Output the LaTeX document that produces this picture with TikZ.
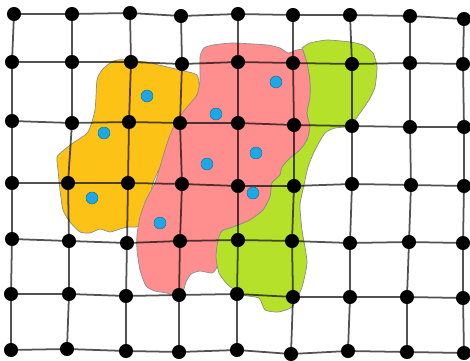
\documentclass[tikz,border=0pt]{standalone}
\definecolor{zoneorange}{RGB}{252,195,22}
\definecolor{zonepink}{RGB}{255,142,142}
\definecolor{zonegreen}{RGB}{182,225,42}
\definecolor{dotblue}{RGB}{28,168,228}
\tikzset{
  gridline/.style={line width=1pt, draw=black, draw opacity=0.68},
  gdot/.style={circle, fill=black, inner sep=0pt, minimum size=8pt},
  bdot/.style={circle, fill=dotblue, draw=dotblue!70!black, line width=0.3pt, inner sep=0pt, minimum size=6.8pt},
  blob/.style={draw=black!45, line width=0.4pt},
}
\begin{document}
\begin{tikzpicture}[x=0.02cm,y=-0.02cm]
\useasboundingbox (0,0) rectangle (470,361);
% lattice points, row by row
\foreach [count=\j] \x/\y in {14/14,72/14,130/13,181/16,238/14,293/15,350/15,410/16,464/19}
  \coordinate (p1-\j) at (\x,\y);
\foreach [count=\j] \x/\y in {12/62,72/62,131/62,182/64,238/62,293/63,352/64,410/63,463/64}
  \coordinate (p2-\j) at (\x,\y);
\foreach [count=\j] \x/\y in {12/121,72/123,129/122,180/123,238/123,294/125,352/126,410/127,464/127}
  \coordinate (p3-\j) at (\x,\y);
\foreach [count=\j] \x/\y in {12/183,68/183,128/183,182/184,238/186,294/186,352/184,411/185,464/186}
  \coordinate (p4-\j) at (\x,\y);
\foreach [count=\j] \x/\y in {12/239,69/241,127/243,180/241,238/240,292/241,350/243,409/242,463/243}
  \coordinate (p5-\j) at (\x,\y);
\foreach [count=\j] \x/\y in {11/294,69/294,126/296,179/295,237/294,293/297,350/297,407/297,463/298}
  \coordinate (p6-\j) at (\x,\y);
\foreach [count=\j] \x/\y in {11/350,67/349,126/351,179/352,237/350,291/354,348/351,407/352,464/353}
  \coordinate (p7-\j) at (\x,\y);

% zones
\filldraw[blob, fill=zoneorange] plot[smooth cycle, tension=0.35] coordinates {
  (117,60) (130,60) (150,63) (180,70) (197,75) (199,90) (190,107) (178,122)
  (168,145) (160,167) (153,183) (148,207) (142,223) (136,227) (128,227)
  (120,229) (110,232) (100,229) (90,233) (80,232) (70,222) (63,210) (60,190)
  (58,170) (57,157) (64,150) (73,143) (88,132) (95,110) (97,80) (102,70) (110,63)};
\filldraw[blob, fill=zonepink] plot[smooth cycle, tension=0.35] coordinates {
  (200,57) (204,48) (213,45) (233,43) (267,45) (280,48) (288,53) (297,50)
  (303,50) (307,63) (310,80) (310,97) (307,113) (310,127) (307,140) (300,150)
  (290,158) (282,167) (280,175) (272,183) (270,197) (263,210) (250,220)
  (233,227) (222,231) (218,242) (217,255) (217,267) (212,273) (200,271)
  (191,274) (186,282) (183,292) (178,297) (167,293) (155,291) (146,286)
  (140,270) (137,250) (137,235) (140,217) (146,200) (155,183) (160,167)
  (165,150) (170,135) (177,120) (187,107) (197,95) (200,80)};
\filldraw[blob, fill=zonegreen] plot[smooth cycle, tension=0.35] coordinates {
  (302,48) (310,43) (327,40) (350,42) (363,45) (373,53) (377,67) (375,87)
  (369,100) (360,113) (350,126) (335,128) (325,133) (315,150) (308,167)
  (304,185) (300,205) (302,230) (307,262) (302,287) (292,307) (278,312)
  (265,310) (259,298) (243,295) (228,285) (219,273) (216,257) (218,240)
  (222,231) (233,227) (250,220) (263,210) (270,197) (272,183) (280,175)
  (282,167) (290,158) (300,150) (307,140) (310,127) (307,113) (310,97)
  (310,80) (307,63) (303,50)};

% grid lines
\foreach \i in {1,...,7}
  \draw[gridline] (p\i-1) \foreach \j in {2,...,9} { -- (p\i-\j) };
\foreach \j in {1,...,9}
  \draw[gridline] (p1-\j) \foreach \i in {2,...,7} { -- (p\i-\j) };

% lattice dots
\foreach \i in {1,...,7}
  \foreach \j in {1,...,9}
    \node[gdot] (d\i-\j) at (p\i-\j) {};

% sample points
\node[bdot] (b1) at (147,96) {};
\node[bdot] (b2) at (104,133) {};
\node[bdot] (b3) at (92,198) {};
\node[bdot] (b4) at (276,82) {};
\node[bdot] (b5) at (216,114) {};
\node[bdot] (b6) at (256,153) {};
\node[bdot] (b7) at (207,164) {};
\node[bdot] (b8) at (253,193) {};
\node[bdot] (b9) at (160,223) {};
\end{tikzpicture}
\end{document}
